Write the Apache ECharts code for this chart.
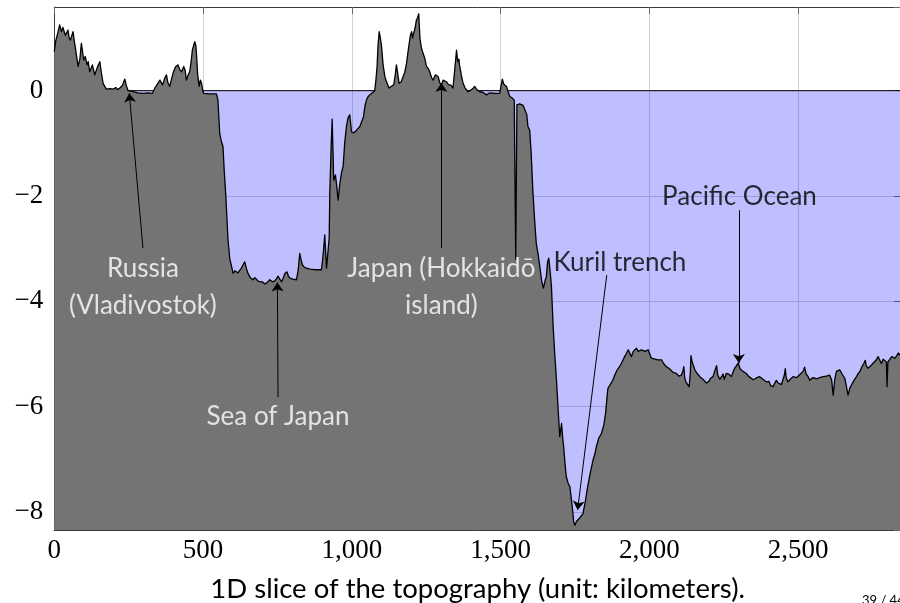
<!DOCTYPE html>
<html>
<head>
<meta charset="utf-8">
<script src="https://cdn.jsdelivr.net/npm/echarts@6/dist/echarts.min.js"></script>
<style>
html,body{margin:0;padding:0;background:#fff;}
#chart{width:900px;height:603px;}
</style>
</head>
<body>
<div id="chart"></div>
<script>
// ---- data: [distance (km), elevation (km)] ----
const landWest = [[0,0.74],[5,0.95],[12,1.10],[18,1.25],[24,1.12],[29,1.20],[32,1.22],[37,1.05],[41,1.03],[46,1.15],[50,1.00],[54,0.96],[59,1.05],[63,1.12],[67,0.95],[72,0.77],[80,0.46],[86,0.60],[91,0.90],[96,0.70],[99,0.58],[104,0.65],[110,0.49],[114,0.55],[119,0.36],[128,0.49],[136,0.30],[145,0.45],[153,0.55],[158,0.35],[164,0.14],[175,0.03],[187,0.04],[198,0.03],[207,0.06],[213,0.02],[220,0.05],[229,0.10],[237,0.22],[242,0.10],[248,0.00],[265,-0.02],[281,-0.04],[298,-0.05],[314,-0.04],[330,-0.05],[338,0.05],[346,0.12],[355,0.20],[364,0.11],[370,0.22],[377,0.30],[382,0.15],[388,0.08],[394,0.22],[399,0.33],[407,0.45],[416,0.49],[422,0.40],[428,0.36],[435,0.46],[440,0.38],[444,0.20],[450,0.30],[455,0.36],[460,0.55],[464,0.77],[469,0.80],[472,0.93],[476,0.85],[478,0.68],[482,0.30],[487,0.08],[491,0.20],[495,0.14],[499,0.00],[502,-0.05],[523,-0.06],[545,-0.06]];
const seaOfJapan = [[550,-0.18],[556,-0.81],[561,-0.95],[567,-1.06],[571,-1.50],[576,-1.95],[584,-2.84],[590,-3.20],[596,-3.34],[601,-3.47],[607,-3.42],[612,-3.40],[617,-3.46],[621,-3.47],[629,-3.37],[635,-3.30],[640,-3.25],[646,-3.38],[651,-3.47],[659,-3.55],[668,-3.59],[674,-3.55],[680,-3.58],[686,-3.62],[691,-3.65],[699,-3.63],[707,-3.67],[716,-3.64],[724,-3.59],[733,-3.63],[741,-3.61],[747,-3.57],[752,-3.52],[758,-3.58],[764,-3.63],[770,-3.55],[775,-3.47],[782,-3.44],[787,-3.52],[792,-3.56],[802,-3.58],[814,-3.59],[820,-3.40],[825,-3.09],[829,-3.20],[834,-3.31],[842,-3.36],[859,-3.39],[879,-3.40],[898,-3.40],[904,-3.10],[909,-2.74],[915,-3.37],[920,-3.40],[924,-2.80],[926,-1.95],[931,-1.00],[934,-0.54],[937,-1.20],[939,-1.70],[945,-1.60],[950,-1.85],[954,-2.08],[959,-1.80],[965,-1.57],[971,-1.43],[976,-1.00],[982,-0.68],[987,-0.52],[993,-0.46],[999,-0.78],[1007,-0.80],[1016,-0.75],[1021,-0.78],[1027,-0.68],[1032,-0.68],[1039,-0.50],[1044,-0.30],[1049,-0.18],[1054,-0.12],[1060,-0.08],[1069,-0.04],[1077,0.00]];
const hokkaido = [[1081,0.20],[1085,0.46],[1088,0.85],[1092,1.12],[1096,1.00],[1100,0.84],[1105,0.50],[1111,0.27],[1116,0.18],[1125,0.05],[1132,0.08],[1141,0.11],[1146,0.30],[1150,0.49],[1155,0.30],[1159,0.14],[1166,0.17],[1172,0.20],[1178,0.35],[1184,0.52],[1188,0.70],[1193,0.90],[1197,1.05],[1201,1.12],[1204,1.00],[1208,1.03],[1213,1.20],[1217,1.34],[1221,1.38],[1225,1.46],[1229,1.00],[1234,0.81],[1240,0.70],[1245,0.62],[1251,0.46],[1257,0.42],[1262,0.36],[1268,0.25],[1273,0.20],[1281,0.30],[1290,0.27],[1296,0.15],[1301,0.11],[1307,0.20],[1312,0.19],[1318,0.17],[1324,0.12],[1329,0.14],[1334,0.10],[1340,0.05],[1346,0.40],[1352,0.77],[1356,0.55],[1360,0.60],[1362,0.49],[1368,0.30],[1374,0.14],[1381,0.05],[1391,-0.02],[1397,0.00],[1405,0.03],[1413,0.08],[1420,0.02],[1430,-0.02],[1440,-0.03],[1453,-0.08],[1460,-0.05],[1469,-0.04],[1477,-0.05],[1486,-0.05],[1497,-0.05],[1502,0.10],[1506,0.22],[1511,0.12],[1516,0.15],[1520,0.08],[1526,-0.03],[1531,-0.11],[1539,-0.14],[1546,-0.18],[1551,-3.20],[1555,-0.27],[1558,-0.27],[1564,-0.25],[1570,-0.27],[1576,-0.28],[1581,-0.30],[1588,-0.45],[1592,-0.68],[1598,-0.75]];
const kurilTrench = [[1603,-1.20],[1609,-1.95],[1615,-2.50],[1620,-2.90],[1626,-3.10],[1632,-3.34],[1638,-3.60],[1644,-3.75],[1650,-3.60],[1654,-3.53],[1658,-3.25],[1662,-3.18],[1667,-3.45],[1671,-3.72],[1677,-4.50],[1682,-4.99],[1688,-5.50],[1693,-6.00],[1699,-6.57],[1705,-6.32],[1709,-6.60],[1712,-6.76],[1717,-7.10],[1721,-7.33],[1727,-7.45],[1733,-7.52],[1738,-7.75],[1742,-7.96],[1746,-8.20],[1750,-8.25],[1755,-8.18],[1760,-8.15],[1768,-8.10],[1777,-8.03],[1785,-7.80],[1791,-7.58],[1800,-7.30],[1811,-7.01],[1817,-6.90],[1822,-6.76],[1830,-6.60],[1839,-6.51],[1847,-6.35],[1853,-6.13],[1858,-5.81],[1861,-5.65],[1865,-5.62],[1872,-5.55],[1878,-5.49],[1884,-5.40],[1892,-5.30],[1899,-5.25],[1906,-5.18],[1912,-5.11],[1917,-5.05],[1923,-4.99],[1929,-4.92]];
const pacific = [[1934,-4.92],[1940,-5.05],[1946,-4.95],[1951,-4.92],[1957,-4.89],[1963,-4.95],[1968,-4.96],[1974,-4.92],[1979,-4.91],[1986,-4.95],[1996,-4.92],[2002,-4.90],[2007,-5.08],[2013,-5.11],[2022,-5.10],[2029,-5.11],[2041,-5.11],[2048,-5.18],[2057,-5.24],[2068,-5.28],[2080,-5.35],[2091,-5.37],[2099,-5.42],[2104,-5.45],[2108,-5.40],[2113,-5.32],[2116,-5.24],[2119,-5.45],[2123,-5.53],[2129,-5.58],[2134,-5.62],[2138,-5.35],[2140,-5.03],[2144,-5.15],[2153,-5.30],[2161,-5.37],[2170,-5.43],[2180,-5.48],[2192,-5.55],[2200,-5.52],[2206,-5.46],[2214,-5.43],[2220,-5.45],[2226,-5.22],[2230,-5.40],[2237,-5.48],[2244,-5.42],[2248,-5.38],[2252,-5.48],[2259,-5.37],[2267,-5.38],[2276,-5.43],[2281,-5.35],[2286,-5.28],[2291,-5.24],[2299,-5.17],[2305,-5.28],[2310,-5.25],[2315,-5.33],[2326,-5.37],[2333,-5.42],[2338,-5.40],[2349,-5.49],[2355,-5.52],[2361,-5.45],[2371,-5.43],[2382,-5.48],[2388,-5.45],[2394,-5.53],[2402,-5.52],[2408,-5.60],[2416,-5.62],[2422,-5.55],[2427,-5.50],[2433,-5.55],[2438,-5.54],[2444,-5.58],[2450,-5.55],[2454,-5.40],[2457,-5.28],[2460,-5.45],[2466,-5.53],[2474,-5.48],[2483,-5.43],[2495,-5.45],[2506,-5.39],[2512,-5.36],[2517,-5.33],[2522,-5.25],[2527,-5.38],[2534,-5.43],[2539,-5.50],[2549,-5.45],[2562,-5.47],[2573,-5.45],[2584,-5.43],[2595,-5.42],[2606,-5.40],[2613,-5.50],[2618,-5.78],[2623,-5.50],[2629,-5.33],[2635,-5.32],[2640,-5.30],[2648,-5.38],[2657,-5.46],[2662,-5.60],[2668,-5.78],[2674,-5.65],[2685,-5.53],[2694,-5.45],[2701,-5.38],[2708,-5.33],[2714,-5.25],[2721,-5.18],[2726,-5.12],[2729,-5.22],[2735,-5.27],[2740,-5.30],[2745,-5.22],[2751,-5.18],[2757,-5.20],[2762,-5.12],[2769,-5.05],[2775,-5.05],[2780,-5.18],[2786,-5.10],[2792,-5.11],[2797,-5.15],[2799,-5.62],[2802,-5.15],[2806,-5.12],[2815,-5.05],[2820,-5.03],[2826,-5.08],[2832,-5.03],[2837,-4.98],[2846,-5.04]];

const seaLevel = [[0,0],[2846,0]];

// axis extents and ticks
const xRange = [0, 2846];
const xTickStep = 500;
const yRange = [-8.342, 1.589];
const xTitle = '1D slice of the topography (unit: kilometers).';
const pageNumber = '39 / 44';

// annotations
const annotationText = ['Russia\n(Vladivostok)', 'Sea of Japan', 'Japan (Hokkaidō\nisland)', 'Kuril trench', 'Pacific Ocean'];
const annotationAt   = [[298,-3.73],[752,-6.18],[1301,-3.73],[1901,-3.27],[2303,-2.02]];
const arrowFrom      = [[298,-2.99],[752,-5.82],[1301,-2.99],[1857,-3.50],[2301,-2.27]];
const arrowTo        = [[252,-0.05],[750,-3.64],[1301,0.146],[1759,-7.96],[2301,-5.17]];
const annotationOnLand = [true, true, true, false, false];

const profile = [].concat(landWest, seaOfJapan, hokkaido, kurilTrench, pacific);

const chart = echarts.init(document.getElementById('chart'), null, {renderer:'canvas'});

const serifFont = 'Liberation Serif';
const sansFont = 'Lato';
const fmtNum = v => {
  const a = Math.abs(v);
  const s = String(Math.round(a)).replace(/\B(?=(\d{3})+(?!\d))/g, ',');
  return (v < 0 ? '\u2212' : '') + s;
};

const axisLineStyle = {color:'#3a3a3a', width:1};
const tickStyle = {color:'#6a6a6a', width:1};
const gridLineStyle = {color:'#d2d2d2', width:1};

const option = {
  animation: false,
  backgroundColor: '#fff',
  grid: {left:54.3, right:-1, top:7, bottom:73, containLabel:false, outerBoundsMode:'none'},
  xAxis: [{
    type:'value', min:xRange[0], max:xRange[1], interval:xTickStep, position:'bottom',
    axisLine:{show:true, onZero:false, lineStyle:axisLineStyle},
    axisTick:{show:true, inside:true, length:7, lineStyle:tickStyle},
    splitLine:{show:true, lineStyle:gridLineStyle},
    axisLabel:{show:true, margin:7, fontFamily:serifFont, fontSize:27, color:'#000',
      formatter:fmtNum, showMinLabel:true, showMaxLabel:false},
    name:xTitle, nameLocation:'middle', nameGap:45,
    nameTextStyle:{fontFamily:sansFont, fontSize:27.5, color:'#000'}
  },{
    type:'value', min:xRange[0], max:xRange[1], interval:xTickStep, position:'top',
    axisLine:{show:true, onZero:false, lineStyle:axisLineStyle},
    axisTick:{show:true, inside:true, length:7, lineStyle:tickStyle},
    splitLine:{show:false}, axisLabel:{show:false}
  }],
  yAxis: [{
    type:'value', min:yRange[0], max:yRange[1], splitNumber:5, position:'left',
    axisLine:{show:true, onZero:false, lineStyle:axisLineStyle},
    axisTick:{show:true, inside:true, length:7, lineStyle:tickStyle},
    splitLine:{show:true, lineStyle:gridLineStyle},
    axisLabel:{show:true, margin:11, fontFamily:serifFont, fontSize:27, color:'#000',
      formatter:fmtNum, showMinLabel:false, showMaxLabel:false}
  },{
    type:'value', min:yRange[0], max:yRange[1], splitNumber:5, position:'right',
    axisLine:{show:true, onZero:false, lineStyle:axisLineStyle},
    axisTick:{show:true, inside:true, length:7, lineStyle:tickStyle},
    splitLine:{show:false}, axisLabel:{show:false}
  }],
  series: [
    {
      name:'sea', type:'line', data:seaLevel, symbol:'none', z:2,
      lineStyle:{color:'#000', width:1},
      areaStyle:{color:'#0000ff', opacity:0.25, origin:'start'}
    },
    {
      name:'terrain', type:'line', data:profile, symbol:'none', z:3,
      lineStyle:{color:'#000', width:1.3, join:'round'},
      areaStyle:{color:'#747474', opacity:1, origin:'start'}
    },
    {
      name:'annotations', type:'scatter', z:5, symbolSize:0, silent:true,
      data: annotationText.map((t,i) => ({
        name:t, value:annotationAt[i],
        label:{color: annotationOnLand[i] ? '#ffffff' : '#000000'}
      })),
      label:{show:true, position:'inside', formatter:'{b}', fontFamily:sansFont,
        fontSize:26, lineHeight:37, align:'center', verticalAlign:'middle'},
      markLine:{
        silent:true, symbol:['none','arrow'], symbolSize:9, precision:4,
        lineStyle:{color:'#000', width:1, type:'solid'},
        label:{show:false},
        data: arrowFrom.map((f,i) => [{coord:f}, {coord:arrowTo[i]}])
      }
    }
  ],
  graphic: [{
    type:'text', left:862, top:594,
    style:{text:pageNumber, fontFamily:sansFont, fontSize:13, fill:'#000'}
  }]
};
chart.setOption(option);
</script>
</body>
</html>
